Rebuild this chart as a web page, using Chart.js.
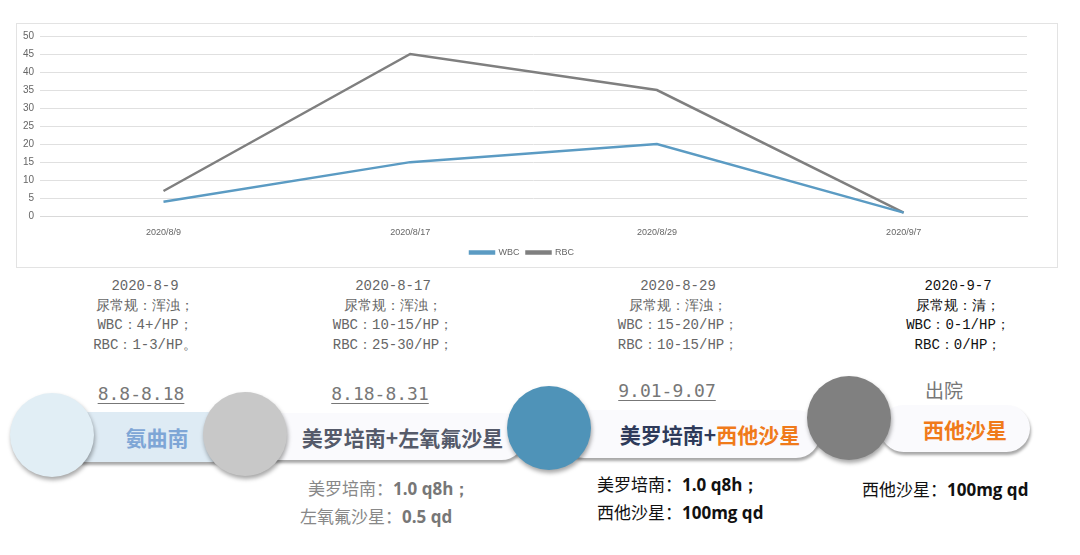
<!DOCTYPE html>
<html lang="zh">
<head>
<meta charset="UTF-8" />
<title>WBC RBC</title>
<script src="https://cdn.jsdelivr.net/npm/chart.js@4"></script>
<style>
  body { margin: 0; width: 1080px; height: 555px; background: #fff; position: relative; overflow: hidden; font-family: "Noto Sans CJK SC", sans-serif; }
  .box { position: absolute; left: 16px; top: 23px; width: 1042px; height: 245px; border: 1px solid #e3e3e3; box-sizing: border-box; }
  .note { position: absolute; text-align: center; font-family: "Liberation Mono", monospace; font-size: 14px; line-height: 19.5px; color: #666; transform: translateX(-50%); white-space: nowrap; }
  .period { position: absolute; transform: translateX(-50%); font-family: "DejaVu Sans Mono", monospace; font-size: 18px; color: #777; text-decoration: underline; text-underline-offset: 3px; white-space: nowrap; }
  .pill { position: absolute; border-radius: 24px; box-shadow: 1px 3px 3px rgba(0,0,0,0.35); display: flex; align-items: center; justify-content: center; font-size: 21px; font-weight: bold; white-space: nowrap; }
  .dot { position: absolute; border-radius: 50%; box-shadow: 1px 3px 4px rgba(0,0,0,0.35); }
  .dose { position: absolute; font-size: 17px; line-height: 27px; white-space: nowrap; }
  .dose b { font-family: "Open Sans", sans-serif; }
</style>
</head>
<body>
<div class="box"><canvas id="c"></canvas></div>

<div class="note" style="left:145px;top:277px">2020-8-9<br>尿常规：浑浊；<br>WBC：4+/HP；<br>RBC：1-3/HP。</div>
<div class="note" style="left:393px;top:277px">2020-8-17<br>尿常规：浑浊；<br>WBC：10-15/HP；<br>RBC：25-30/HP；</div>
<div class="note" style="left:678px;top:277px">2020-8-29<br>尿常规：浑浊；<br>WBC：15-20/HP；<br>RBC：10-15/HP；</div>
<div class="note" style="left:958px;top:277px;color:#111">2020-9-7<br>尿常规：清；<br>WBC：0-1/HP；<br>RBC：0/HP；</div>

<div class="period" style="left:141px;top:383px">8.8-8.18</div>
<div class="period" style="left:380px;top:383px">8.18-8.31</div>
<div class="period" style="left:667px;top:380px">9.01-9.07</div>
<div class="period" style="left:944px;top:376px;text-decoration:none;font-family:'Noto Sans CJK SC';font-size:19px">出院</div>

<div class="pill" style="left:60px;top:412px;width:175px;height:50px;background:#deebf4;color:#7ea6d6">&nbsp;&nbsp;&nbsp;&nbsp;氨曲南</div>
<div class="dot" style="left:10px;top:393px;width:84px;height:84px;background:#e1eef5"></div>
<div class="pill" style="left:250px;top:413px;width:275px;height:47px;background:#fafafd;color:#555a6a;padding-left:30px;box-sizing:border-box">美罗培南+左氧氟沙星</div>
<div class="dot" style="left:203px;top:392px;width:84px;height:84px;background:#c8c8c8"></div>
<div class="pill" style="left:560px;top:410px;width:260px;height:48px;background:#fafafd;color:#2e3a5a;padding-left:40px;box-sizing:border-box">美罗培南+<span style="color:#f07a1a">西他沙星</span></div>
<div class="dot" style="left:507px;top:386px;width:84px;height:84px;background:#4f93b8"></div>
<div class="pill" style="left:880px;top:405px;width:150px;height:47px;background:#fafafd;color:#f07a1a;padding-left:20px;box-sizing:border-box">西他沙星</div>
<div class="dot" style="left:807px;top:376px;width:84px;height:84px;background:#808080"></div>

<div class="dose" style="left:300px;top:474px;color:#888"><span style="padding-left:8px">美罗培南：<b style="color:#777">1.0 q8h；</b></span><br>左氧氟沙星：<b style="color:#777">0.5 qd</b></div>
<div class="dose" style="left:597px;top:470px;color:#111">美罗培南：<b>1.0 q8h；</b><br>西他沙星：<b>100mg qd</b></div>
<div class="dose" style="left:862px;top:475px;color:#111">西他沙星：<b>100mg qd</b></div>

<script>
  const dates = ["2020/8/9", "2020/8/17", "2020/8/29", "2020/9/7"];
  const wbc = [4, 15, 20, 1];
  const rbc = [7, 45, 35, 1];

  new Chart(document.getElementById("c"), {
    type: "line",
    data: {
      labels: dates,
      datasets: [
        { label: "WBC", data: wbc, borderColor: "#5b9bc3", backgroundColor: "#5b9bc3", borderWidth: 2.5, pointRadius: 0, tension: 0 },
        { label: "RBC", data: rbc, borderColor: "#7f7f7f", backgroundColor: "#7f7f7f", borderWidth: 2.5, pointRadius: 0, tension: 0 },
      ],
    },
    options: {
      responsive: true,
      maintainAspectRatio: false,
      animation: false,
      layout: { padding: { left: 0, right: 30, top: 8, bottom: 0 } },
      plugins: {
        legend: { position: "bottom", labels: { boxWidth: 24, boxHeight: 2, font: { size: 9 }, color: "#666", padding: 7 } },
        tooltip: { enabled: false },
      },
      scales: {
        x: { offset: true, grid: { display: false }, border: { color: "#d9d9d9" }, ticks: { font: { size: 9 }, color: "#666", padding: 3 } },
        y: { min: 0, max: 50, ticks: { stepSize: 5, font: { size: 10 }, color: "#666", padding: 6 }, grid: { color: "#e0e0e0", drawTicks: false }, border: { display: false } },
      },
    },
  });
</script>
</body>
</html>
